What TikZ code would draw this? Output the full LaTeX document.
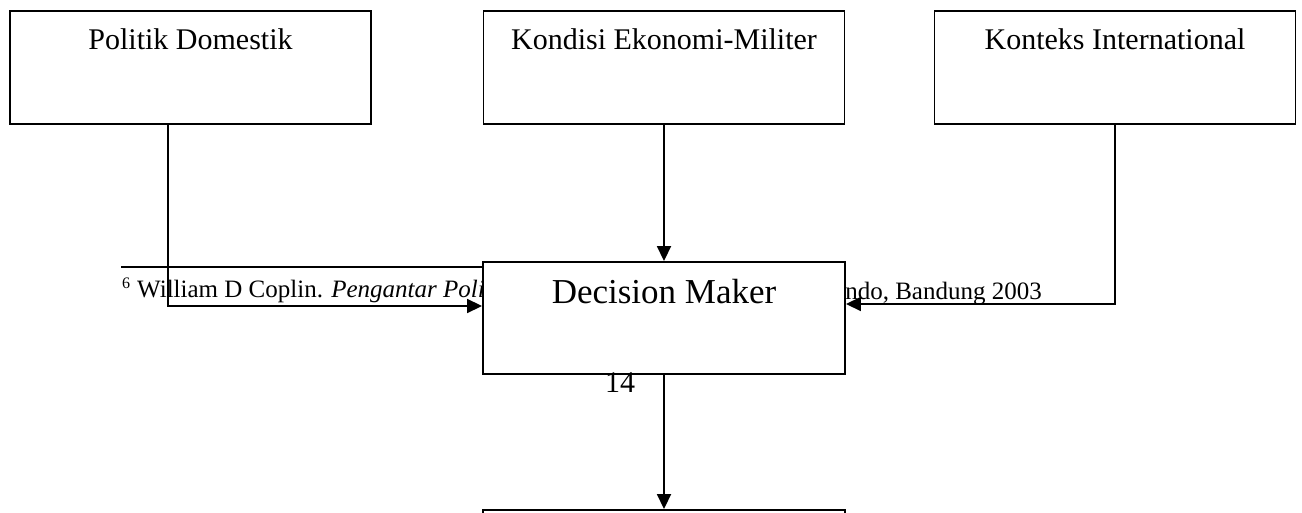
\documentclass[tikz,border=0pt]{standalone}
\usepackage{fontspec}
\setmainfont{Liberation Serif}
\usetikzlibrary{arrows.meta}
\begin{document}
\begin{tikzpicture}[x=1pt,y=-1pt,
  box/.style={draw=black,fill=white,line width=1.9pt,minimum width=361pt,minimum height=113pt,inner sep=0pt},
  boxtext/.style={anchor=base,font=\fontsize{30}{30}\selectfont},
  arr/.style={line width=1.8pt,-{Triangle[length=15pt,width=14pt]}},
  fn/.style={font=\fontsize{25}{25}\selectfont,inner sep=0pt}]
\clip (0,0) rectangle (1302,513);
% footnote
\coordinate (r1) at (121,267);
\coordinate (r2) at (490,267);
\draw[line width=1.4pt] (r1) -- (r2);
\node[fn,anchor=base west] (fn1) at (122,298) {\raisebox{9pt}{\fontsize{16}{16}\selectfont 6}\hspace{7pt}William D Coplin. \textit{Pengantar Politik}};
\node[fn,anchor=base east] (fn2) at (1042,299) {Algensindo, Bandung 2003};
% boxes
\node[box,label={[boxtext,yshift=-39pt]north:Politik Domestik}] (p1) at (190.5,67.5) {};
\node[box,label={[boxtext,yshift=-39pt]north:Kondisi Ekonomi-Militer}] (p2) at (664,67.5) {};
\node[box,label={[boxtext,yshift=-39pt]north:Konteks International}] (p3) at (1115,67.5) {};
\node[box,minimum width=362pt,minimum height=112pt,
  label={[anchor=base,font=\fontsize{35}{35}\selectfont,yshift=-42pt]north:Decision Maker}] (dm) at (664,318) {};
\node[box,minimum width=362pt,minimum height=113pt] (out) at (664,566.5) {};
% connectors
\draw[arr] ([xshift=-22.5pt]p1.south) |- ([yshift=12pt]dm.west);
\draw[arr] (p2.south) -- (dm.north);
\draw[arr] (p3.south) |- ([yshift=14pt]dm.east);
\draw[arr] (dm.south) -- (out.north);
% page number
\node[anchor=base,inner sep=0pt,font=\fontsize{30}{30}\selectfont] (pg) at (620,392) {14};
\end{tikzpicture}
\end{document}
